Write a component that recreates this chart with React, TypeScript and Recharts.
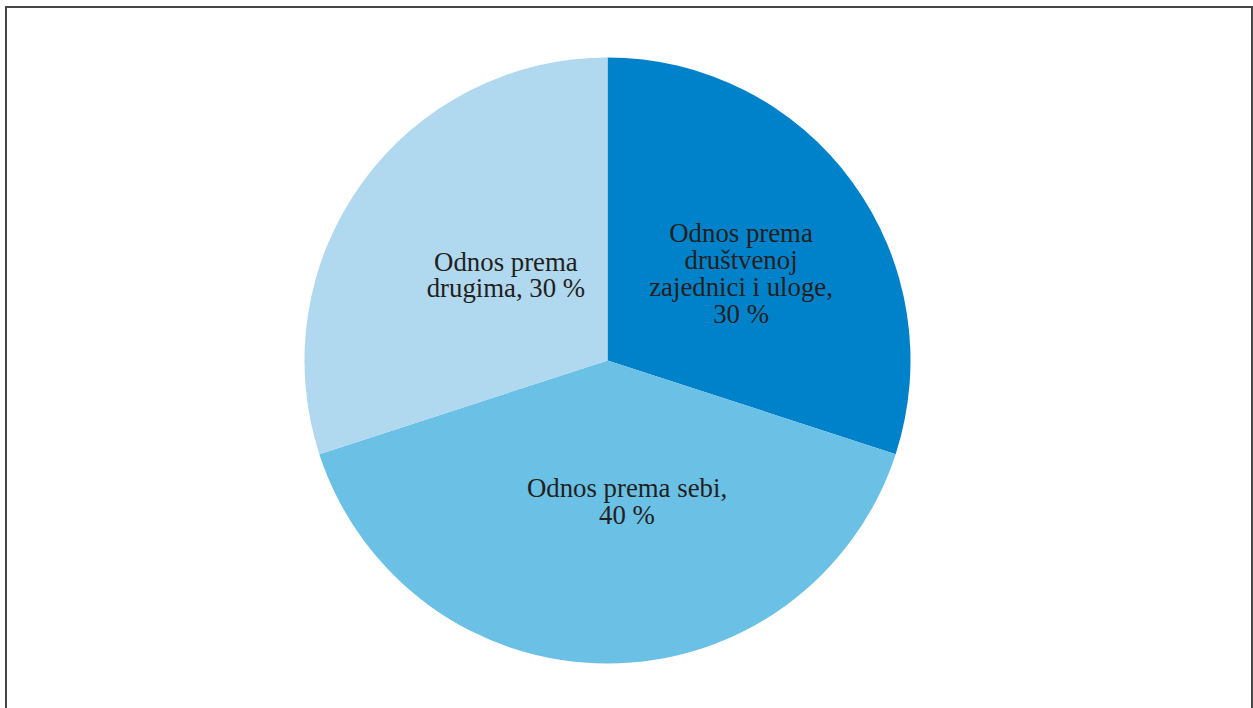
import React from "react";
import { PieChart, Pie, Cell } from "recharts";

const TEXT = "#231f20";
const FONT = "'Liberation Serif', 'Times New Roman', serif";

// slice order: clockwise from 12 o'clock
const categories = [
  "Odnos prema društvenoj zajednici i uloge",
  "Odnos prema sebi",
  "Odnos prema drugima",
];
const shares = [30, 40, 30];
const colors = ["#0082ca", "#6ac0e5", "#b0d8ef"];
// label wrapping as in the original, {v} = share
const labelLines = [
  ["Odnos prema", "društvenoj", "zajednici i uloge,", "{v} %"],
  ["Odnos prema sebi,", "{v} %"],
  ["Odnos prema", "drugima, {v} %"],
];

// label nudges (px) from half-radius point on the slice's mid angle
const LABEL_NUDGE = [
  { dx: 11, dy: 2 },
  { dx: 19.5, dy: -11 },
  { dx: 21, dy: 3.5 },
];

const W = 1253;
const H = 708;
const FS = 26.8;
const LH = 26.8;

const data = categories.map((name, i) => ({ name, value: shares[i] }));

const RAD = Math.PI / 180;

function renderLabel(props: any) {
  const { cx, cy, midAngle, outerRadius, index, value } = props;
  const r = outerRadius * 0.5;
  const x = cx + r * Math.cos(-midAngle * RAD) + LABEL_NUDGE[index].dx;
  const y = cy + r * Math.sin(-midAngle * RAD) + LABEL_NUDGE[index].dy;
  const lines = labelLines[index].map((l) => l.replace("{v}", String(value)));
  const first = y - ((lines.length - 1) / 2) * LH + FS * 0.34;
  return (
    <text
      key={`lbl-${index}`}
      x={x}
      y={first}
      textAnchor="middle"
      fill={TEXT}
      fontSize={FS}
      fontFamily={FONT}
    >
      {lines.map((t, i) => (
        <tspan key={i} x={x} dy={i === 0 ? 0 : LH}>
          {t}
        </tspan>
      ))}
    </text>
  );
}

export default function App() {
  return (
    <div
      style={{
        position: "absolute",
        left: 0,
        top: 0,
        width: W,
        height: H,
        background: "#fff",
        overflow: "hidden",
      }}
    >
      {/* frame, bottom edge runs off the page */}
      <div
        style={{
          position: "absolute",
          left: 5,
          top: 6,
          width: 1248,
          height: 800,
          border: "2px solid #474747",
          boxSizing: "border-box",
        }}
      />
      <div style={{ position: "absolute", left: 0, top: 0 }}>
        <PieChart width={W} height={H} margin={{ top: 0, right: 0, bottom: 0, left: 0 }}>
          <Pie
            data={data}
            dataKey="value"
            nameKey="name"
            cx={607.5}
            cy={360.5}
            outerRadius={303}
            startAngle={90}
            endAngle={-270}
            stroke="none"
            labelLine={false}
            label={renderLabel}
            isAnimationActive={false}
          >
            {data.map((d, i) => (
              <Cell key={d.name} fill={colors[i]} />
            ))}
          </Pie>
        </PieChart>
      </div>
    </div>
  );
}
